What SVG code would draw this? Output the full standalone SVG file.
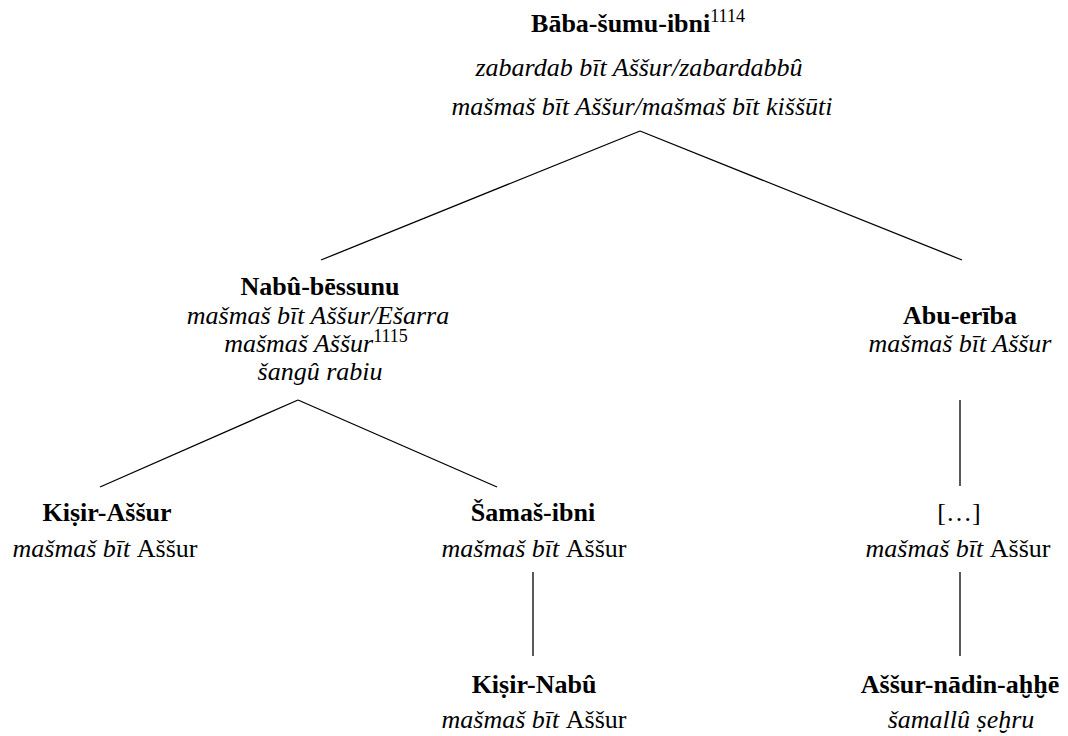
<svg xmlns="http://www.w3.org/2000/svg" width="1068" height="736" viewBox="0 0 1068 736">
  <style>
    text { font-family: "Liberation Serif", "Times New Roman", serif; font-size: 26px; fill: #000; text-anchor: middle; }
    .name { font-weight: bold; }
    .it { font-style: italic; }
    .up { font-weight: normal; font-style: normal; }
    .sup { font-size: 18px; font-weight: normal; font-style: normal; }
    .link { stroke: #000; stroke-width: 1.3; fill: none; }
  </style>
  <rect width="1068" height="736" fill="#fff"/>

  <g id="connectors">
    <line class="link" x1="640" y1="131" x2="321" y2="260"/>
    <line class="link" x1="640" y1="131" x2="962" y2="260"/>
    <line class="link" x1="298" y1="400" x2="100" y2="487"/>
    <line class="link" x1="298" y1="400" x2="497" y2="487"/>
    <line class="link" x1="960" y1="400" x2="960" y2="486"/>
    <line class="link" x1="960" y1="572" x2="960" y2="656"/>
    <line class="link" x1="533" y1="572" x2="533" y2="656"/>
  </g>

  <g id="baba-sumu-ibni">
    <text class="name" x="638" y="32">Bāba-šumu-ibni<tspan class="sup" dy="-10">1114</tspan></text>
    <text class="it" x="639" y="76">zabardab bīt Aššur/zabardabbû</text>
    <text class="it" x="642" y="115">mašmaš bīt Aššur/mašmaš bīt kiššūti</text>
  </g>

  <g id="nabu-bessunu">
    <text class="name" x="320" y="295">Nabû-bēssunu</text>
    <text class="it" x="318" y="324">mašmaš bīt Aššur/Ešarra</text>
    <text class="it" x="316" y="352">mašmaš Aššur<tspan class="sup" dy="-10">1115</tspan></text>
    <text class="it" x="320" y="380">šangû rabiu</text>
  </g>

  <g id="abu-eriba">
    <text class="name" x="960" y="324">Abu-erība</text>
    <text class="it" x="960" y="352">mašmaš bīt Aššur</text>
  </g>

  <g id="kisir-assur">
    <text class="name" x="107" y="521">Kiṣir-Aššur</text>
    <text class="it" x="105" y="557">mašmaš bīt <tspan class="up">Aššur</tspan></text>
  </g>

  <g id="samas-ibni">
    <text class="name" x="533" y="521">Šamaš-ibni</text>
    <text class="it" x="534" y="557">mašmaš bīt <tspan class="up">Aššur</tspan></text>
  </g>

  <g id="unknown">
    <text x="959" y="521">[…]</text>
    <text class="it" x="958" y="557">mašmaš bīt <tspan class="up">Aššur</tspan></text>
  </g>

  <g id="kisir-nabu">
    <text class="name" x="534" y="693">Kiṣir-Nabû</text>
    <text class="it" x="534" y="728">mašmaš bīt <tspan class="up">Aššur</tspan></text>
  </g>

  <g id="assur-nadin-ahhe">
    <text class="name" x="960" y="693">Aššur-nādin-aḫḫē</text>
    <text class="it" x="961" y="728">šamallû ṣeḫru</text>
  </g>
</svg>
